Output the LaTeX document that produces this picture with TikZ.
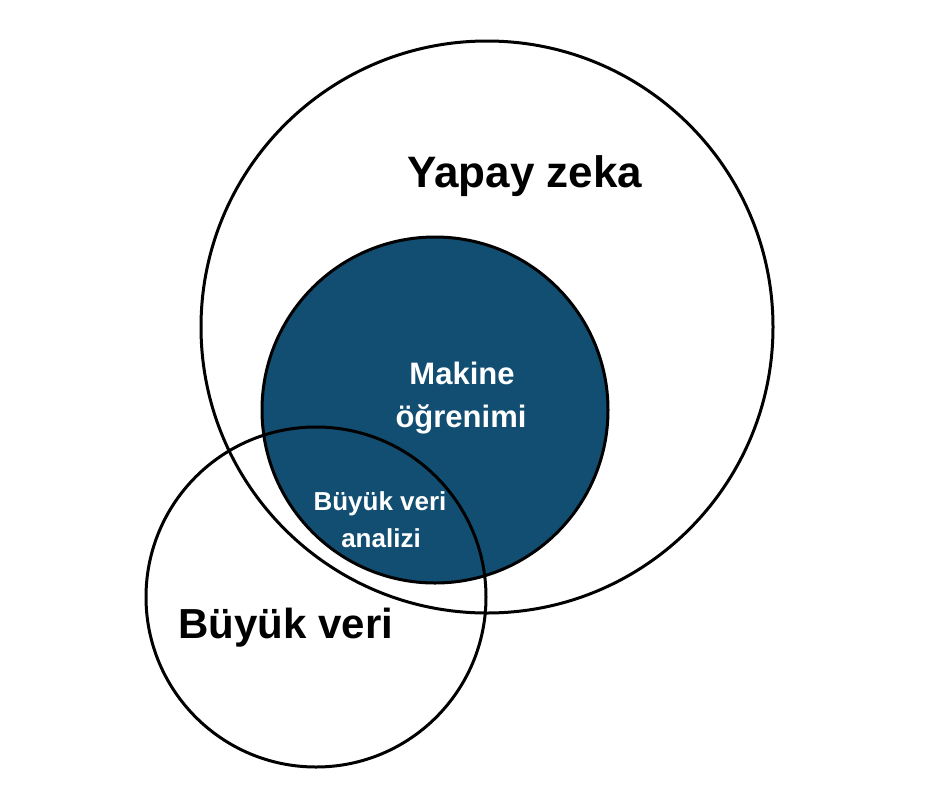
\documentclass[tikz,border=0pt]{standalone}
\usepackage{fontspec}
\setmainfont{Liberation Sans}
\definecolor{mlblue}{RGB}{18,78,114}
\begin{document}
\begin{tikzpicture}[x=1pt,y=-1pt,
  ring/.style={draw=black,line width=3pt},
  bigtxt/.style={anchor=base,font=\bfseries\fontsize{44}{52}\selectfont,text=black,inner sep=0},
  bdtxt/.style={anchor=base,font=\bfseries\fontsize{42}{50}\selectfont,text=black,inner sep=0},
  midtxt/.style={anchor=base,font=\bfseries\fontsize{31}{37}\selectfont,text=white,inner sep=0},
  smalltxt/.style={anchor=base,font=\bfseries\fontsize{26}{32}\selectfont,text=white,inner sep=0}]
\useasboundingbox (0,0) rectangle (940,788);
\fill[mlblue] (435,410) circle[radius=173];
\draw[ring] (487,327) circle[radius=286] coordinate (ai);
\draw[ring] (316,597) circle[radius=170] coordinate (bd);
\draw[ring] (435,410) circle[radius=173] coordinate (ml);
\node[bigtxt] (t1) at (525,187) {Yapay zeka};
\node[bdtxt] (t2) at (286,638) {Büyük veri};
\node[midtxt] (t3) at (462,384) {Makine};
\node[midtxt] (t4) at (461,427) {öğrenimi};
\node[smalltxt] (t5) at (380,510) {Büyük veri};
\node[smalltxt] (t6) at (381,547) {analizi};
\end{tikzpicture}
\end{document}
